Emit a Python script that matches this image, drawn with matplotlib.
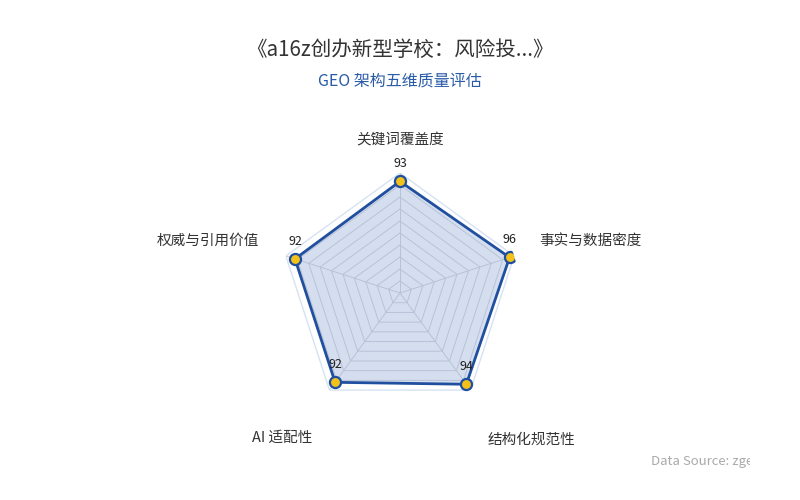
import numpy as np
import matplotlib
matplotlib.use("Agg")
import matplotlib.pyplot as plt
from matplotlib.patches import Rectangle

plt.rcParams['font.family'] = ['Noto Sans CJK SC', 'DejaVu Sans']

categories = ["关键词覆盖度", "事实与数据密度", "结构化规范性", "AI 适配性", "权威与引用价值"]
values = [93, 96, 94, 92, 92]
grid_levels = [10, 20, 30, 40, 50, 60, 70, 80, 90, 100]
title = "《a16z创办新型学校：风险投...》"
subtitle = "GEO 架构五维质量评估"
source = "Data Source: zgeo"

fig = plt.figure(figsize=(8, 5), dpi=100)
fig.patch.set_facecolor("white")
ax = fig.add_axes([0.35, 0.174, 0.30, 0.48], projection="polar")
ax.set_theta_offset(np.pi / 2)
ax.set_theta_direction(-1)
ax.set_ylim(0, 100)
ax.axis("off")

n = len(categories)
angles = np.linspace(0, 2 * np.pi, n, endpoint=False)
ang_c = np.concatenate([angles, angles[:1]])

# grid pentagons
for lv in grid_levels[:-1]:
    ax.plot(ang_c, [lv] * (n + 1), color="#c9ccd4", lw=0.7, zorder=1)
ax.plot(ang_c, [grid_levels[-1]] * (n + 1), color="#d6e2f3", lw=1.0, zorder=1)
for a in angles:
    ax.plot([a, a], [0, 100], color="#c9ccd4", lw=0.7, zorder=1)

vals_c = values + values[:1]
ax.fill(ang_c, vals_c, color="#a3b7dc", alpha=0.45, zorder=2, lw=0)
ax.plot(ang_c, vals_c, color="#1f4f9e", lw=2.0, zorder=3)
ax.plot(angles, values, "o", ms=8, mfc="#f2c21b", mec="#1f4f9e", mew=1.6, zorder=4)

for a, v in zip(angles, values):
    ax.annotate(str(v), (a, v), xytext=(0, 8), textcoords="offset points",
                ha="center", va="bottom", fontsize=9, color="#222222", zorder=5)

# category labels
label_pos = [(400, 140), (590, 241), (531, 440), (282, 438), (208, 241)]
for cat, (px, py) in zip(categories, label_pos):
    fig.text(px / 800, 1 - py / 500, cat, ha="center", va="center",
             fontsize=10.5, color="#333333")

fig.text(0.5, 1 - 50 / 500, title, ha="center", va="center", fontsize=14.8, color="#333333")
fig.text(0.5, 1 - 81 / 500, subtitle, ha="center", va="center", fontsize=11.5, color="#2a5ba8")
fig.text(651 / 800, 1 - 462 / 500, source, ha="left", va="center", fontsize=9.5, color="#aaaaaa")
fig.patches.append(Rectangle((750 / 800, 0), 50 / 800, 0.2, transform=fig.transFigure,
                             facecolor="white", edgecolor="none", zorder=10))

fig.savefig("out.png", dpi=100, facecolor="white")
